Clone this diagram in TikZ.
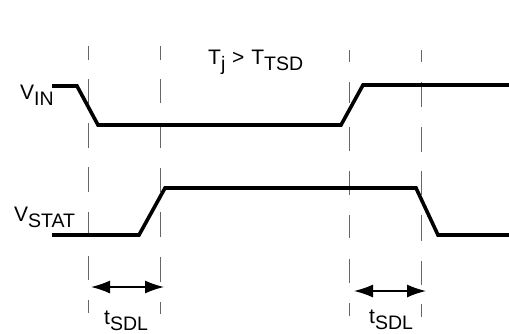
\documentclass[tikz,border=0pt]{standalone}
\usepackage{fontspec}
\setmainfont{Liberation Sans}
\usetikzlibrary{arrows.meta}
\newcommand{\lbl}[2]{{\fontsize{21}{24}\selectfont #1\raisebox{-6pt}{\fontsize{19.5}{24}\selectfont #2}}}
\tikzset{
  wave/.style={line width=3.6pt,black,line join=miter},
  guide/.style={line width=0.7pt,black!60},
  span/.style={line width=1.4pt,black,{Latex[length=19pt,width=13pt]}-{Latex[length=19pt,width=13pt]}},
  txt/.style={inner sep=0pt,anchor=base west,black},
  pagebg/.style={fill=white,draw=none}
}
\begin{document}
\begin{tikzpicture}[x=1pt,y=-1pt]
\path[pagebg,use as bounding box] (0,0) rectangle (509,333);
% guides
\foreach \x/\a/\b/\c/\d/\e/\f/\g/\h/\i/\j/\k/\l in {
 88/46/60/79/104/123/148/167/192/212/235/256/280,
 160/46/60/79/103/124/148/168/192/212/237/257/282,
 349/50/62/82/103/127/151/171/195/215/238/259/283,
 421/50/62/82/107/127/152/171/195/215/241/261/285}{
  \draw[guide] (\x,\a)--(\x,\b) (\x,\c)--(\x,\d) (\x,\e)--(\x,\f) (\x,\g)--(\x,\h) (\x,\i)--(\x,\j) (\x,\k)--(\x,\l);
}
\draw[guide] (88,300)--(88,313) (160,302)--(160,314) (349,303)--(349,316) (421,304)--(421,317);
% waves
\coordinate (a0) at (52,86); \coordinate (a1) at (77,86); \coordinate (a2) at (98,125);
\coordinate (a3) at (341,125); \coordinate (a4) at (363,85); \coordinate (a5) at (509,85);
\draw[wave] (a0)--(a1)--(a2)--(a3)--(a4)--(a5);
\coordinate (b0) at (52,235); \coordinate (b1) at (139,235); \coordinate (b2) at (165,188);
\coordinate (b3) at (416,188); \coordinate (b4) at (438,235); \coordinate (b5) at (509,235);
\draw[wave] (b0)--(b1)--(b2)--(b3)--(b4)--(b5);
% spans
\coordinate (s1) at (91,287); \coordinate (s2) at (164,287);
\coordinate (s3) at (354,291); \coordinate (s4) at (426,291);
\draw[span] (s1)--(s2);
\draw[span] (s3)--(s4);
% labels
\node[txt] (vin) at (20,99) {\lbl{V}{IN}};
\node[txt] (vstat) at (14,221) {\lbl{V}{STAT}};
\node[txt] (tj) at (208,64) {\lbl{T}{j}\hspace{1pt}\lbl{ > }{}\hspace{1pt}\lbl{T}{TSD}};
\node[txt] (t1) at (104,324) {\lbl{t}{SDL}};
\node[txt] (t2) at (369,323) {\lbl{t}{SDL}};
\end{tikzpicture}
\end{document}
